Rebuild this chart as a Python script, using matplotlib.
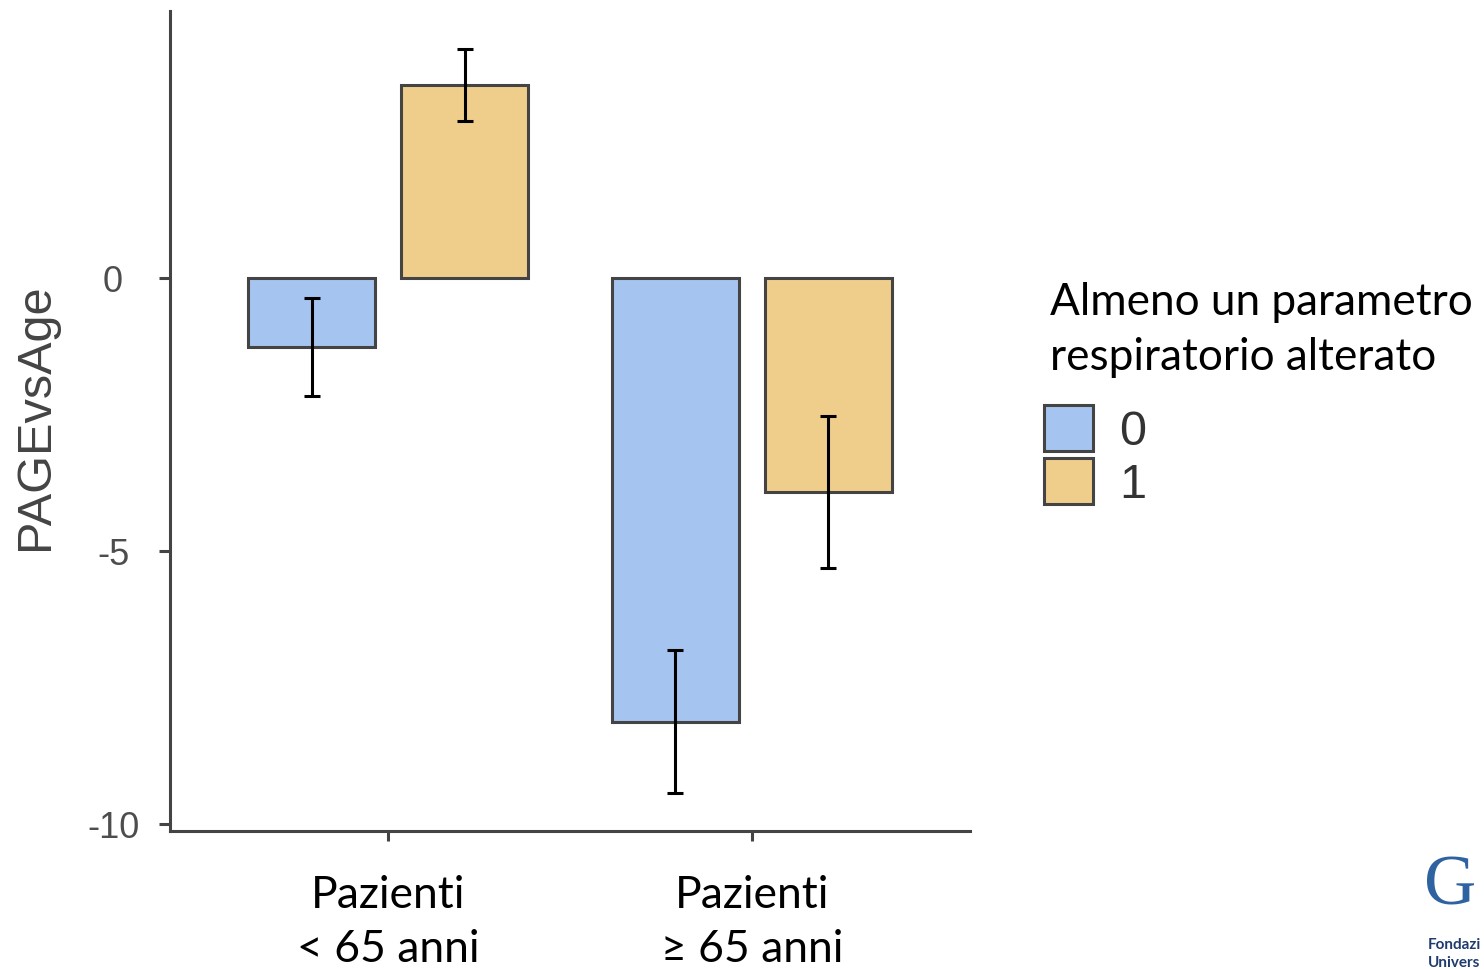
import matplotlib.pyplot as plt
import numpy as np

# data
groups = ['Pazienti\n< 65 anni', 'Pazienti\n≥ 65 anni']
levels = ['0', '1']
means_0 = [-1.26, -8.13]
means_1 = [3.53, -3.92]
err_0 = [0.90, 1.31]
err_1 = [0.66, 1.39]
yticks = [0, -5, -10]
legend_title = ['Almeno un parametro', 'respiratorio alterato']

colors = ['#A6C4F0', '#EFCD8B']
edge = '#444444'
W, H = 1484, 970

fig = plt.figure(figsize=(W / 100, H / 100), dpi=100)
ax = fig.add_axes([170 / W, 1 - 832 / H, 800 / W, 820 / H])

x = np.arange(len(groups))
width = 0.35
for i, (m, e) in enumerate([(means_0, err_0), (means_1, err_1)]):
    xi = x + (i - 0.5) * 0.42
    ax.bar(xi, m, width=width, color=colors[i], edgecolor=edge,
           linewidth=2.2, label=levels[i], zorder=2)
    ax.errorbar(xi, m, yerr=e, fmt='none', ecolor='black', elinewidth=2.2,
                capsize=6, capthick=2.2, zorder=3)

ax.set_xlim(-0.6, 1.6)
ax.set_ylim(-10.13, 4.89)

for s in ['top', 'right']:
    ax.spines[s].set_visible(False)
for s in ['left', 'bottom']:
    ax.spines[s].set_color(edge)
    ax.spines[s].set_linewidth(2.2)

ax.set_yticks(yticks)
ax.set_yticklabels([str(t) for t in yticks], family='Liberation Sans',
                   fontsize=26, color='#4d4d4d')
for lab in ax.get_yticklabels():
    lab.set_ha('center')
ax.tick_params(axis='y', length=8, width=2.2, color=edge, pad=33)

ax.set_xticks(x)
ax.set_xticklabels(groups, family='Lato', fontsize=32, color='black',
                   linespacing=1.4)
ax.tick_params(axis='x', length=7, width=2.2, color=edge, pad=24)

ax.set_ylabel('PAGEvsAge', family='Liberation Sans', fontsize=35, color='#444444')
ax.yaxis.set_label_coords(-0.14, 0.506)

# legend title: two lines placed on their own baselines
for line, base in zip(legend_title, [315, 370]):
    fig.text(1050 / W, 1 - base / H, line, family='Lato', fontsize=31.8,
             va='baseline', ha='left')
leg = fig.legend(loc='upper left', bbox_to_anchor=(1044 / W, 1 - 406 / H),
                 frameon=False, borderpad=0, borderaxespad=0,
                 prop={'family': 'Liberation Sans', 'size': 35},
                 handlelength=1.0, handleheight=1.07, labelspacing=0.07,
                 handletextpad=0.55)
for t in leg.get_texts():
    t.set_color('#333333')

# partial logo in the corner
fig.text(1424 / W, 1 - 905 / H, 'G', family='Liberation Serif', fontsize=52,
         color='#2F62A0', va='baseline')
fig.text(1428 / W, 1 - 954 / H, 'Fondazi\nUnivers', family='Lato', fontsize=11,
         fontweight='bold', color='#1F3B6E', va='center', linespacing=1.3)

fig.savefig('out.png', dpi=100)
